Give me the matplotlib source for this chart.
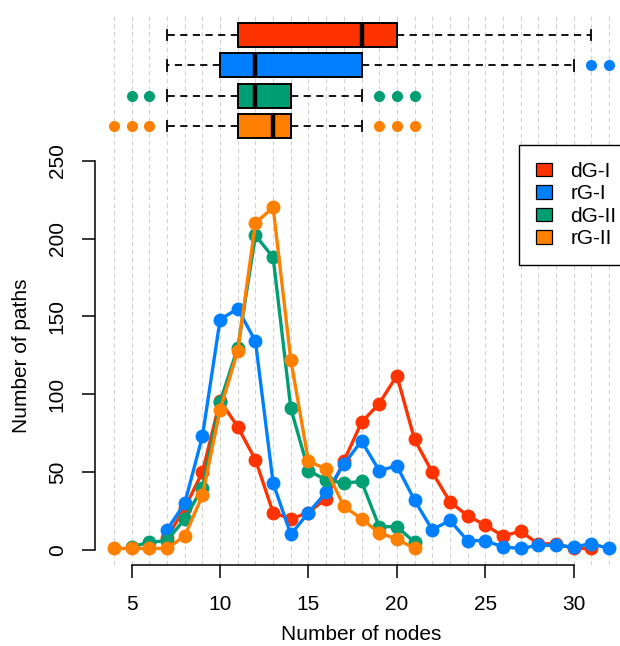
"""Path length distributions for the four graph variants, with boxplots on top."""

import matplotlib

matplotlib.use("Agg")
import matplotlib.pyplot as plt
from matplotlib.patches import Patch

plt.rcParams["font.family"] = ["Liberation Sans", "DejaVu Sans"]

W, H = 620, 646

SERIES = ["dG-I", "rG-I", "dG-II", "rG-II"]
COLORS = ["#FF3300", "#0080FF", "#009E73", "#FF8000"]

# number of nodes per path -> number of paths
nodes_dg1 = list(range(7, 32))
paths_dg1 = [8, 27, 50, 96, 79, 58, 24, 20, 24, 33, 57, 82, 94, 112, 71, 50,
             31, 22, 16, 9, 12, 4, 4, 1, 1]
nodes_rg1 = list(range(7, 33))
paths_rg1 = [13, 30, 73, 148, 155, 134, 43, 10, 24, 37, 55, 70, 51, 54, 32,
             13, 19, 6, 6, 2, 1, 3, 3, 2, 4, 1]
nodes_dg2 = list(range(5, 22))
paths_dg2 = [2, 5, 6, 20, 40, 95, 130, 202, 188, 91, 51, 45, 43, 44, 15, 15, 5]
nodes_rg2 = list(range(4, 22))
paths_rg2 = [1, 1, 1, 1, 9, 35, 90, 128, 210, 220, 122, 57, 52, 28, 20, 11, 7, 1]

# boxplot summaries
box_q1 = [11, 10, 11, 11]
box_med = [18, 12, 12, 13]
box_q3 = [20, 18, 14, 14]
box_lo = [7, 7, 7, 7]
box_hi = [31, 30, 18, 18]
box_fliers = [[], [31, 32], [5, 6, 19, 20, 21], [4, 5, 6, 19, 20, 21]]

x_ticks = [5, 10, 15, 20, 25, 30]
y_ticks = [0, 50, 100, 150, 200, 250]

FS = 15


def px_axes(fig, left, top, right, bottom):
    return fig.add_axes([left / W, 1 - bottom / H, (right - left) / W, (bottom - top) / H])


def grid(ax, lo, hi):
    ax.vlines(range(4, 33), lo, hi, colors="#d2d2d2", lw=0.8,
              linestyles=(0, (4, 3)), zorder=0)


def main():
    fig = plt.figure(figsize=(W / 100, H / 100), dpi=100)

    # x scale: 4 -> px 114, 32 -> px 609
    xlim = (4 - 19 / 17.64, 32 + 11 / 17.64)

    ax = px_axes(fig, 95, 145, 620, 565)
    ax.set_xlim(*xlim)
    ylim = (-15 / 1.5572, 250 + 15.7 / 1.5572)
    ax.set_ylim(*ylim)
    grid(ax, ylim[0], ylim[1])

    data = [(nodes_dg1, paths_dg1), (nodes_rg1, paths_rg1),
            (nodes_dg2, paths_dg2), (nodes_rg2, paths_rg2)]
    for (xs, ys), c in zip(data, COLORS):
        ax.plot(xs, ys, "-o", color=c, lw=2.4, ms=9, clip_on=False, zorder=3)

    for s in ("top", "right"):
        ax.spines[s].set_visible(False)
    ax.spines["left"].set_bounds(0, 250)
    ax.spines["bottom"].set_bounds(5, 30)
    ax.spines["left"].set_linewidth(1.1)
    ax.spines["bottom"].set_linewidth(1.1)
    ax.set_xticks(x_ticks)
    ax.set_yticks(y_ticks)
    ax.tick_params(length=9.4, width=1.1, labelsize=FS)
    ax.tick_params(axis="x", pad=12)
    ax.tick_params(axis="y", labelrotation=90, pad=11)
    for lab in ax.get_yticklabels():
        lab.set_verticalalignment("center")

    fig.text(361 / W, 1 - 635 / H, "Number of nodes", ha="center", va="center", fontsize=FS)
    fig.text(22 / W, 1 - 356 / H, "Number of paths", ha="center", va="center",
             rotation=90, fontsize=FS)

    handles = [Patch(facecolor=c, edgecolor="black", lw=0.9) for c in COLORS]
    leg = fig.legend(handles, SERIES, loc="upper left",
                     bbox_to_anchor=(519 / W, 1 - 145 / H), fontsize=FS,
                     frameon=True, fancybox=False, framealpha=1, edgecolor="black",
                     handlelength=0.76, handleheight=0.62, handletextpad=0.9,
                     borderpad=0.8, labelspacing=0.17, borderaxespad=0)
    leg.get_frame().set_linewidth(1.0)

    # boxplot strip
    bx = px_axes(fig, 95, 15, 620, 145)
    bx.set_xlim(*xlim)
    bylim = (0.373, 4.66)
    bx.set_ylim(*bylim)
    grid(bx, bylim[0], bylim[1])
    bx.axis("off")

    stats = []
    for i in range(4):
        stats.append({"q1": box_q1[i], "med": box_med[i], "q3": box_q3[i],
                      "whislo": box_lo[i], "whishi": box_hi[i],
                      "fliers": box_fliers[i]})
    res = bx.bxp(stats, positions=[4, 3, 2, 1], widths=0.79, vert=False,
                 patch_artist=True, capwidths=0.36,
                 boxprops=dict(edgecolor="black", lw=1.4),
                 whiskerprops=dict(color="black", lw=1.3, linestyle=(0, (4, 3))),
                 capprops=dict(color="black", lw=1.3),
                 medianprops=dict(color="black", lw=3.2),
                 flierprops=dict(marker="o", markersize=8, markeredgewidth=0))
    for patch, c in zip(res["boxes"], COLORS):
        patch.set_facecolor(c)
    for fl, c in zip(res["fliers"], COLORS):
        fl.set_markerfacecolor(c)
        fl.set_clip_on(False)
    for art in res["whiskers"] + res["caps"] + res["medians"] + res["boxes"]:
        art.set_zorder(3)

    fig.savefig("out.png", dpi=100)
    plt.close(fig)


if __name__ == "__main__":
    main()
